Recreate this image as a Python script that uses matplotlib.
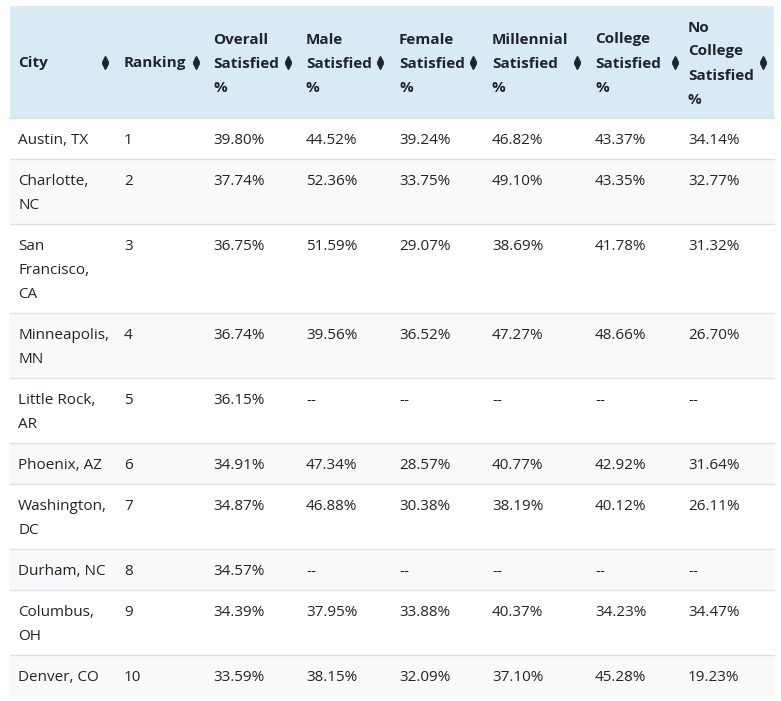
import matplotlib
matplotlib.use('Agg')
import matplotlib.pyplot as plt
from matplotlib.patches import Rectangle

# table data
headers = ["City", "Ranking", "Overall\nSatisfied\n%", "Male\nSatisfied\n%",
           "Female\nSatisfied\n%", "Millennial\nSatisfied\n%",
           "College\nSatisfied\n%", "No\nCollege\nSatisfied\n%"]
cities = ["Austin, TX", "Charlotte,\nNC", "San\nFrancisco,\nCA", "Minneapolis,\nMN",
          "Little Rock,\nAR", "Phoenix, AZ", "Washington,\nDC", "Durham, NC",
          "Columbus,\nOH", "Denver, CO"]
ranking = [1, 2, 3, 4, 5, 6, 7, 8, 9, 10]
overall = [39.80, 37.74, 36.75, 36.74, 36.15, 34.91, 34.87, 34.57, 34.39, 33.59]
male = [44.52, 52.36, 51.59, 39.56, None, 47.34, 46.88, None, 37.95, 38.15]
female = [39.24, 33.75, 29.07, 36.52, None, 28.57, 30.38, None, 33.88, 32.09]
millennial = [46.82, 49.10, 38.69, 47.27, None, 40.77, 38.19, None, 40.37, 37.10]
college = [43.37, 43.35, 41.78, 48.66, None, 42.92, 40.12, None, 34.23, 45.28]
no_college = [34.14, 32.77, 31.32, 26.70, None, 31.64, 26.11, None, 34.47, 19.23]

# layout (pixels)
col_x = [18, 124, 213, 306, 399, 492, 595, 688]
icon_x = [105, 196, 288, 380, 473, 577, 675, 763]
left, right = 10, 774
head_top, head_bot = 6, 118
line_h = 24
base_off = 26   # row top -> first baseline
row_pad = 41    # height of a one-line row

text_col = "#212529"
font = ["Open Sans", "DejaVu Sans"]
fs = 11

fig = plt.figure(figsize=(7.81, 7.01), dpi=100)
ax = fig.add_axes([0, 0, 1, 1])
ax.set_xlim(0, 781)
ax.set_ylim(701, 0)
ax.axis("off")

def pct(v):
    return "--" if v is None else "%.2f%%" % v

# header
ax.add_patch(Rectangle((left, head_top), right - left, head_bot - head_top,
                       color="#d9eaf5", lw=0))
mid = (head_top + head_bot) / 2
for i, h in enumerate(headers):
    parts = h.split("\n")
    first = mid - (len(parts) - 1) * line_h / 2
    for k, part in enumerate(parts):
        ax.text(col_x[i], first + k * line_h + 5.5, part, ha="left", va="baseline",
                fontsize=fs, fontweight="bold", color=text_col, family=font)
    ax.plot(icon_x[i], mid - 3, marker="^", ms=5, color=text_col)
    ax.plot(icon_x[i], mid + 3.5, marker="v", ms=5, color=text_col)
ax.plot([left, right], [head_bot, head_bot], color="#dee2e6", lw=1.5)

# body
y = head_bot
for r in range(len(cities)):
    n_lines = cities[r].count("\n") + 1
    h = row_pad + (n_lines - 1) * line_h
    if r % 2 == 1:
        ax.add_patch(Rectangle((left, y), right - left, h, color="#f9f9f9", lw=0))
    cells = [cities[r], str(ranking[r]), pct(overall[r]), pct(male[r]),
             pct(female[r]), pct(millennial[r]), pct(college[r]), pct(no_college[r])]
    for c, txt in enumerate(cells):
        for k, part in enumerate(txt.split("\n")):
            ax.text(col_x[c], y + base_off + k * line_h, part, ha="left",
                    va="baseline", fontsize=fs, color=text_col, family=font)
    y += h
    if r < len(cities) - 1:
        ax.plot([left, right], [y, y], color="#dee2e6", lw=1)

fig.savefig("out.png", dpi=100)
